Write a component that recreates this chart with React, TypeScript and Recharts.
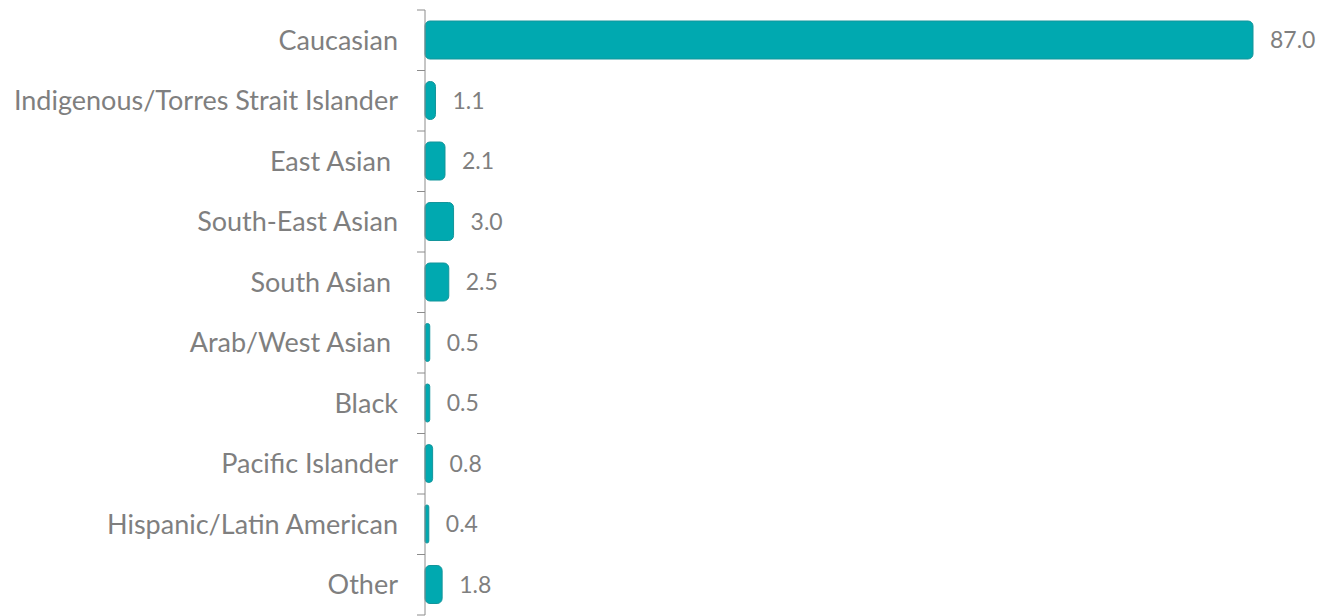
import { Bar, BarChart, LabelList, XAxis, YAxis } from "recharts";

const categories = [
  "Caucasian",
  "Indigenous/Torres Strait Islander",
  "East Asian ",
  "South-East Asian",
  "South Asian ",
  "Arab/West Asian ",
  "Black",
  "Pacific Islander",
  "Hispanic/Latin American",
  "Other",
];
const percents = [87.0, 1.1, 2.1, 3.0, 2.5, 0.5, 0.5, 0.8, 0.4, 1.8];

const data = categories.map((name, i) => ({ name, value: percents[i] }));

const WIDTH = 1333;
const HEIGHT = 616;
const TOP = 10;
const BOTTOM = 1;
const AXIS_X = 425;
const TICK = 8;
const BAND = (HEIGHT - TOP - BOTTOM) / categories.length;
const GREY = "#7f7f7f";

function CategoryTick(props: any) {
  const { x, y, payload, index } = props;
  const last = index === categories.length - 1;
  return (
    <g>
      <line
        x1={AXIS_X - TICK}
        x2={AXIS_X}
        y1={y - BAND / 2}
        y2={y - BAND / 2}
        stroke="#8c8c8c"
      />
      {last && (
        <line
          x1={AXIS_X - TICK}
          x2={AXIS_X}
          y1={y + BAND / 2}
          y2={y + BAND / 2}
          stroke="#8c8c8c"
        />
      )}
      <text
        x={x}
        y={y}
        dy="0.36em"
        textAnchor="end"
        fill={GREY}
        fontSize={27}
        style={{ whiteSpace: "pre" }}
      >
        {payload.value}
      </text>
    </g>
  );
}

export default function App() {
  return (
    <div style={{ fontFamily: "Lato, sans-serif" }}>
      <style>{`body{margin:0}`}</style>
      <BarChart
        width={WIDTH}
        height={HEIGHT}
        data={data}
        layout="vertical"
        margin={{ top: TOP, right: 80, bottom: BOTTOM, left: 0 }}
      >
        <XAxis type="number" domain={[0, 87]} hide />
        <YAxis
          type="category"
          dataKey="name"
          width={AXIS_X}
          tickLine={false}
          tickMargin={21}
          axisLine={{ stroke: "#8c8c8c" }}
          tick={<CategoryTick />}
          interval={0}
        />
        <Bar
          dataKey="value"
          fill="#00a9b0"
          stroke="#13959b"
          strokeWidth={1}
          barSize={38}
          radius={5}
          isAnimationActive={false}
        >
          <LabelList
            dataKey="value"
            position="right"
            offset={17}
            fill={GREY}
            fontSize={23}
            formatter={(v: any) => Number(v).toFixed(1)}
          />
        </Bar>
      </BarChart>
    </div>
  );
}
